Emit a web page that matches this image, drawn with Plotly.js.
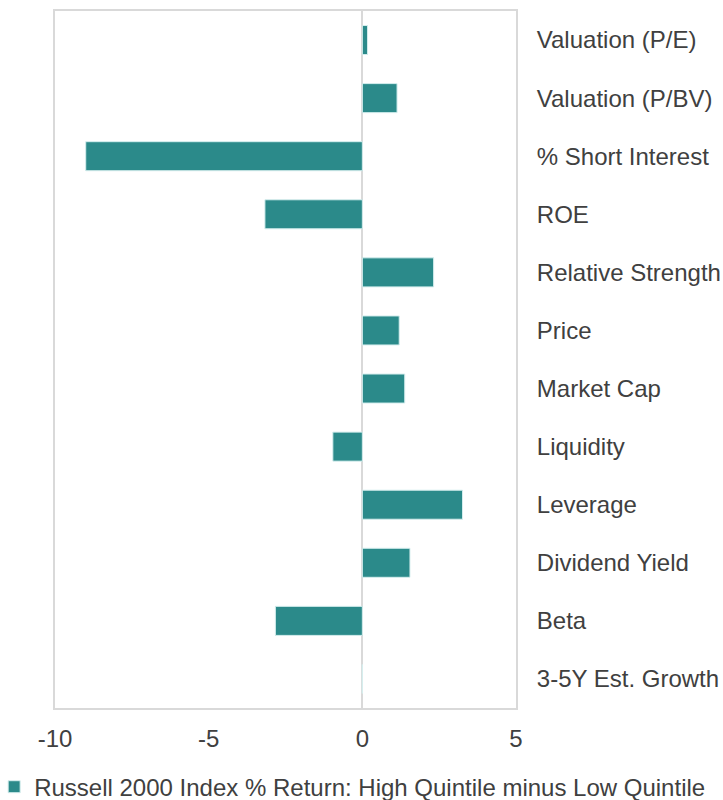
<!DOCTYPE html>
<html>
<head>
<meta charset="utf-8">
<script src="https://cdn.plot.ly/plotly-3.0.1.min.js"></script>
<style>html,body{margin:0;padding:0;background:#fff;}#chart{width:723px;height:800px;}</style>
</head>
<body>
<div id="chart"></div>
<script>
const categories = [
  "Valuation (P/E)", "Valuation (P/BV)", "% Short Interest", "ROE",
  "Relative Strength", "Price", "Market Cap", "Liquidity",
  "Leverage", "Dividend Yield", "Beta", "3-5Y Est. Growth"
];
const values = [0.17, 1.13, -9.0, -3.17, 2.32, 1.2, 1.38, -0.96, 3.26, 1.55, -2.83, 0];
const seriesName = "Russell 2000 Index % Return: High Quintile minus Low Quintile";
const xTicks = [-10, -5, 0, 5];

const font = {family: "Liberation Sans, Arial, sans-serif", size: 24, color: "#404040"};

Plotly.newPlot("chart", [{
  type: "bar",
  orientation: "h",
  y: categories,
  x: values,
  name: seriesName,
  marker: {color: "#2B8A8A", line: {color: "#D6EEEE", width: 1}},
  showlegend: true
}], {
  width: 723, height: 800,
  margin: {l: 55, r: 207, t: 11, b: 92, autoexpand: false},
  paper_bgcolor: "#fff", plot_bgcolor: "#fff",
  font: font,
  bargap: 0.5,
  xaxis: {
    range: [-10, 5], tickvals: xTicks, ticktext: xTicks.map(String),
    showgrid: false, zeroline: true, zerolinecolor: "#D9D9D9", zerolinewidth: 2,
    showline: true, linecolor: "#D9D9D9", linewidth: 2, mirror: true,
    ticks: "", ticklabelstandoff: 8, tickfont: font, fixedrange: true
  },
  yaxis: {
    side: "right", autorange: "reversed", type: "category",
    showgrid: false, zeroline: false,
    showline: true, linecolor: "#D9D9D9", linewidth: 2, mirror: true,
    ticks: "", ticklabelstandoff: 14, tickfont: font, fixedrange: true
  },
  legend: {
    orientation: "h", x: -0.132, xanchor: "left", y: -0.1135, yanchor: "middle",
    font: font, bgcolor: "rgba(0,0,0,0)", itemwidth: 30
  }
}, {displayModeBar: false, staticPlot: true});
</script>
</body>
</html>
